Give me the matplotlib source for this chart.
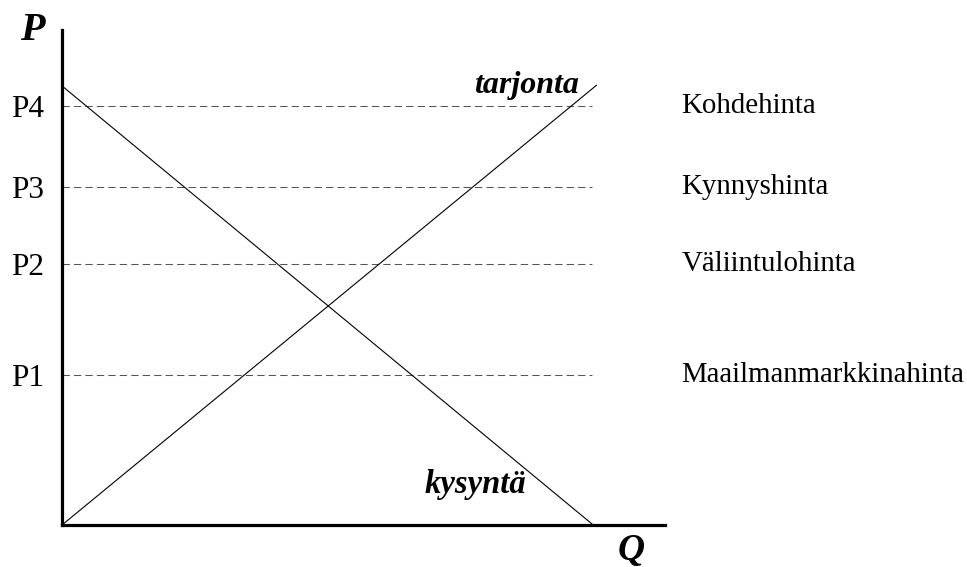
import matplotlib
matplotlib.use("Agg")
import matplotlib.pyplot as plt

# Data (arbitrary units, Q and P scaled 0..100)
price_levels = [30.3, 52.7, 68.3, 84.6]
price_ticklabels = ["P1", "P2", "P3", "P4"]
price_names = ["Maailmanmarkkinahinta", "Väliintulohinta", "Kynnyshinta", "Kohdehinta"]
supply_q = [0.0, 88.7]
supply_p = [0.0, 88.9]
demand_q = [0.0, 88.1]
demand_p = [88.7, 0.0]
dash_end_q = 87.9

W, H = 967, 567
fig = plt.figure(figsize=(W / 100, H / 100), dpi=100)
ax = fig.add_axes([62 / W, (H - 525) / H, 603 / W, 495 / H])
ax.set_xlim(0, 100)
ax.set_ylim(0, 100)

serif = ["Liberation Serif", "DejaVu Serif"]

ax.spines["top"].set_visible(False)
ax.spines["right"].set_visible(False)
for s in ("left", "bottom"):
    ax.spines[s].set_linewidth(2.3)
    ax.spines[s].set_color("black")

ax.set_xticks([])
ax.set_yticks(price_levels)
ax.set_yticklabels(price_ticklabels, fontfamily=serif, fontsize=22.5)
ax.tick_params(axis="y", length=0, pad=13)

# Dashed price lines
ax.hlines(price_levels, 0, dash_end_q, colors="#555555", linewidth=0.75,
          linestyles=(0, (7, 4)))

# Supply and demand
ax.plot(supply_q, supply_p, color="black", linewidth=0.8, solid_capstyle="butt")
ax.plot(demand_q, demand_p, color="black", linewidth=0.8, solid_capstyle="butt")

# Right-side price names
for y, name in zip(price_levels, price_names):
    ax.annotate(name, xy=(102.7, y), xytext=(0, -7), textcoords="offset pixels",
                ha="left", va="baseline", fontfamily=serif, fontsize=20.8,
                annotation_clip=False)

# Curve labels
ax.text(85.7, 87.3, "tarjonta", ha="right", va="baseline", fontfamily=serif,
        fontsize=23, fontweight="bold", fontstyle="italic")
ax.text(60.2, 6.5, "kysyntä", ha="left", va="baseline", fontfamily=serif,
        fontsize=23.5, fontweight="bold", fontstyle="italic")

# Axis labels
ax.text(-7.0, 98.0, "P", ha="left", va="baseline", fontfamily=serif,
        fontsize=29, fontweight="bold", fontstyle="italic", clip_on=False)
ax.text(92.2, -7.1, "Q", ha="left", va="baseline", fontfamily=serif,
        fontsize=27, fontweight="bold", fontstyle="italic", clip_on=False)

fig.savefig("out.png", dpi=100)
